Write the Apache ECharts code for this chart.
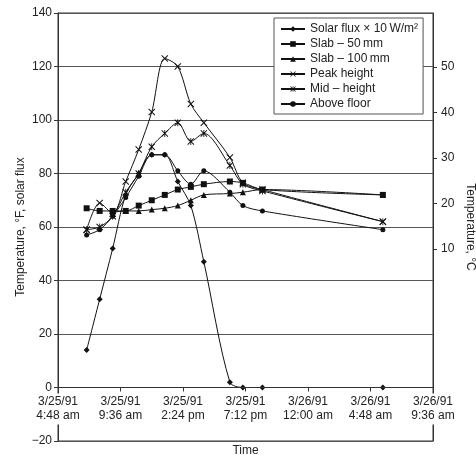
<!DOCTYPE html>
<html><head><meta charset="utf-8">
<script src="https://cdn.jsdelivr.net/npm/echarts@6/dist/echarts.min.js"></script>
<style>html,body{margin:0;padding:0;background:#fff}#c{width:476px;height:455px}</style>
</head><body><div id="c"></div>
<script>
// time of each reading, minutes after midnight 3/25/91
const times = [420, 480, 540, 600, 660, 720, 780, 840, 900, 960, 1080, 1140, 1230, 1785];
const solarFlux = [14, 33, 52, 72, 80, 87, 87, 77, 68, 47, 2, 0, 0, 0];
const slab50 = [67, 66, 66, 66, 68, 70, 72, 74, 75, 76, 77, 76.5, 74, 72];
const slab100 = [null, null, 65.5, 66, 66, 66.5, 67, 68, 70, 72, 72.5, 73, 74, 72];
const peakHeight = [59, 69, 65, 77, 89, 103, 123, 120, 106, 99, 86, 76.5, 74, 62];
const midHeight = [59, 60, 64, 73, 80, 90, 95, 99, 92, 95, 83, 76, 73.5, 62];
const aboveFloor = [57, 59, 64, 71, 79, 87, 87, 81, 76, 81, 73, 68, 66, 59];
const seriesNames = ['Solar flux \u00d7 10\u2009W/m\u00b2', 'Slab \u2013 50\u2009mm', 'Slab \u2013 100\u2009mm', 'Peak height', 'Mid \u2013 height', 'Above floor'];
const xTickLabels = ['3/25/91\n4:48 am', '3/25/91\n9:36 am', '3/25/91\n2:24 pm', '3/25/91\n7:12 pm', '3/26/91\n12:00 am', '3/26/91\n4:48 am', '3/26/91\n9:36 am'];
const rightTicks = [10, 20, 30, 40, 50];

const FONT = 'Liberation Sans';
const TXT = '#222';
const crossPath = 'path://M0,1 L1,0 L5,4 L9,0 L10,1 L6,5 L10,9 L9,10 L5,6 L1,10 L0,9 L4,5 Z';
const starPath = 'path://M0,1 L1,0 L5,4 L9,0 L10,1 L6,5 L10,9 L9,10 L5,6 L1,10 L0,9 L4,5 Z M4.4,0 L5.6,0 L5.6,10 L4.4,10 Z';
const symbols = ['diamond', 'rect', 'triangle', crossPath, starPath, 'circle'];
const sizes = [6, 6, 6, 7, 7, 5];
const values = [solarFlux, slab50, slab100, peakHeight, midHeight, aboveFloor];

const series = values.map((vals, i) => ({
  name: seriesNames[i],
  type: 'line',
  smooth: 0.3,
  symbol: symbols[i],
  symbolSize: sizes[i],
  showAllSymbol: true,
  lineStyle: { color: '#111', width: 1 },
  itemStyle: { color: '#111', borderWidth: 0 },
  data: times.map((t, k) => vals[k] == null ? null : [t, vals[k]]).filter(d => d),
  yAxisIndex: 0
}));

const chart = echarts.init(document.getElementById('c'));
chart.setOption({
  animation: false,
  textStyle: { fontFamily: FONT, color: TXT },
  grid: { left: 58, right: 43, top: 13, bottom: 14, show: true, borderColor: '#333', borderWidth: 1,
    outerBoundsMode: 'none' },
  legend: {
    orient: 'vertical', left: 274, top: 18,
    backgroundColor: '#fff', borderColor: '#555', borderWidth: 1,
    padding: [4, 5, 3, 6], itemGap: 1, itemWidth: 24, itemHeight: 7,
    textStyle: { fontFamily: FONT, fontSize: 12, color: TXT, lineHeight: 14 },
    data: seriesNames
  },
  xAxis: {
    type: 'value', min: 288, max: 2016, interval: 288,
    position: 'bottom', offset: -53.5, z: 5,
    axisLine: { onZero: false, lineStyle: { color: '#333' } },
    axisTick: { show: true, length: 4, lineStyle: { color: '#333' } },
    splitLine: { show: false },
    axisLabel: {
      fontFamily: FONT, fontSize: 12, color: TXT, margin: 6, lineHeight: 14,
      backgroundColor: '#fff', padding: [1, 2, 2, 2],
      formatter: v => xTickLabels[Math.round((v - 288) / 288)] || ''
    },
    name: 'Time', nameLocation: 'middle', nameGap: 57, nameMoveOverlap: false,
    nameTextStyle: { fontFamily: FONT, fontSize: 12, color: TXT }
  },
  yAxis: [{
    type: 'value', min: -20, max: 140, interval: 20,
    axisLine: { show: true, onZero: false, lineStyle: { color: '#333' } },
    axisTick: { show: true, length: 4, lineStyle: { color: '#333' } },
    splitLine: { show: true, lineStyle: { color: '#555', width: 1 } },
    axisLabel: { fontFamily: FONT, fontSize: 12, color: TXT, margin: 6,
      formatter: v => String(v).replace('-', '\u2212') },
    name: 'Temperature, \u00b0F, solar flux', nameLocation: 'middle', nameGap: 31, nameMoveOverlap: false,
    nameTextStyle: { fontFamily: FONT, fontSize: 12, color: TXT }
  }, {
    type: 'value', position: 'right', min: -32.2, max: 61.87,
    axisLine: { show: true, onZero: false, lineStyle: { color: '#333' } },
    axisTick: { show: true, length: 4, customValues: rightTicks, lineStyle: { color: '#333' } },
    splitLine: { show: false },
    axisLabel: { fontFamily: FONT, fontSize: 12, color: TXT, margin: 8, customValues: rightTicks },
    name: 'Temperature, \u00b0C', nameLocation: 'middle', nameRotate: -90, nameGap: 31, nameMoveOverlap: false,
    nameTextStyle: { fontFamily: FONT, fontSize: 12, color: TXT }
  }],
  series: series
});
</script></body></html>
